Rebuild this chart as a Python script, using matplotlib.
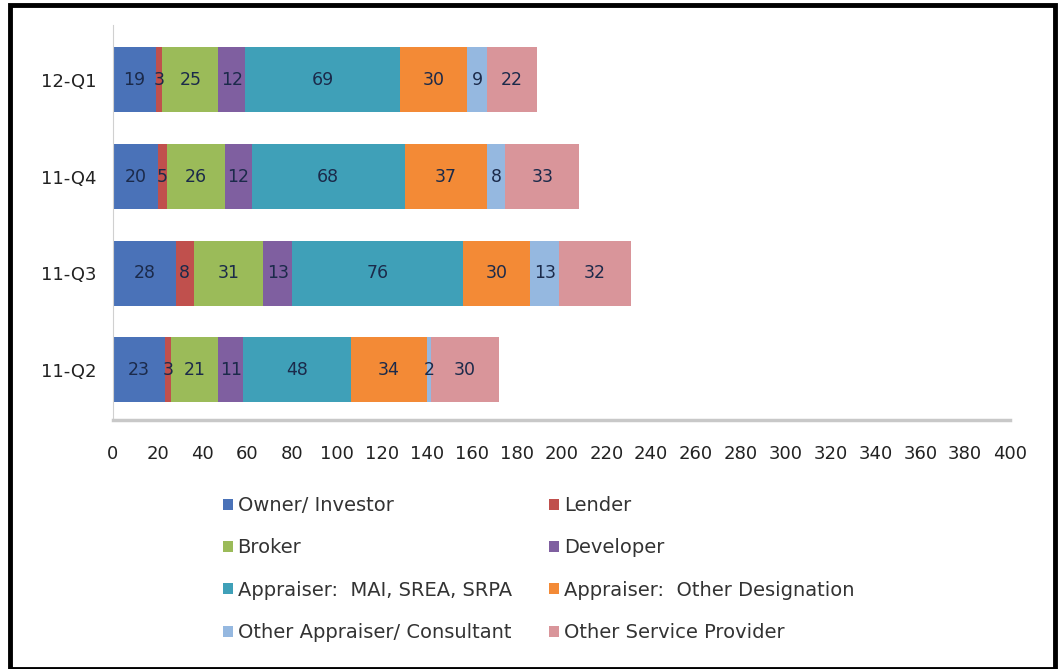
import matplotlib.pyplot as plt
from matplotlib.patches import Rectangle

plt.rcParams['font.family'] = ['DejaVu Sans']

quarters = ["11-Q2", "11-Q3", "11-Q4", "12-Q1"]
series_names = [
    "Owner/ Investor", "Lender", "Broker", "Developer",
    "Appraiser:  MAI, SREA, SRPA", "Appraiser:  Other Designation",
    "Other Appraiser/ Consultant", "Other Service Provider",
]
owner = [23, 28, 20, 19]
lender = [3, 8, 4, 3]
broker = [21, 31, 26, 25]
developer = [11, 13, 12, 12]
appraiser_mai = [48, 76, 68, 69]
appraiser_other = [34, 30, 37, 30]
other_consultant = [2, 13, 8, 9]
other_service = [30, 32, 33, 22]
label_text = [
    ["23", "28", "20", "19"], ["3", "8", "5", "3"], ["21", "31", "26", "25"],
    ["11", "13", "12", "12"], ["48", "76", "68", "69"], ["34", "30", "37", "30"],
    ["2", "13", "8", "9"], ["30", "32", "33", "22"],
]

colors = ["#4A72B8", "#C0504D", "#9BBB59", "#7F5FA0",
          "#3FA0B8", "#F38A36", "#95B8E0", "#D9959A"]

series = [owner, lender, broker, developer, appraiser_mai,
          appraiser_other, other_consultant, other_service]

fig = plt.figure(figsize=(10.6, 6.69), dpi=100)
ax = fig.add_axes([0.1066, 0.372, 0.8462, 0.591])

ypos = list(range(len(quarters)))
left = [0] * len(quarters)
handles = []
for vals, col, name, txt in zip(series, colors, series_names, label_text):
    bars = ax.barh(ypos, vals, left=left, height=0.67, color=col, label=name)
    handles.append(bars)
    for b, t in zip(bars, txt):
        ax.text(b.get_x() + b.get_width() / 2, b.get_y() + b.get_height() / 2, t,
                ha="center", va="center", fontsize=12.5, color="#1B2A4A")
    left = [l + v for l, v in zip(left, vals)]

ax.set_xlim(0, 400)
ax.set_ylim(-0.52, 3.57)
ax.set_xticks(range(0, 401, 20))
ax.set_yticks(ypos)
ax.set_yticklabels(quarters)
ax.tick_params(axis="both", length=0, labelsize=13, colors="#222222")
ax.tick_params(axis="x", pad=18)
ax.tick_params(axis="y", pad=12)
for s in ["top", "right"]:
    ax.spines[s].set_visible(False)
ax.spines["left"].set_color("#D0D0D0")
ax.spines["bottom"].set_color("#C8C8C8")
ax.spines["bottom"].set_linewidth(2.5)

# legend reads row-wise, so two single-column legends placed side by side
leg_kw = dict(loc="upper left", frameon=False, fontsize=14, labelspacing=1.2,
              handlelength=0.5, handleheight=0.5, handletextpad=0.25,
              labelcolor="#333333", borderaxespad=0)
col1 = [0, 2, 4, 6]
col2 = [1, 3, 5, 7]
fig.legend([handles[i] for i in col1], [series_names[i] for i in col1],
           bbox_to_anchor=(0.203, 0.27), **leg_kw)
fig.legend([handles[i] for i in col2], [series_names[i] for i in col2],
           bbox_to_anchor=(0.511, 0.27), **leg_kw)

# outer black frame
fig.add_artist(Rectangle((0.009, 0.0), 0.986, 0.992, transform=fig.transFigure,
                         fill=False, edgecolor="black", linewidth=3.5))

fig.savefig("out.png", dpi=100)
